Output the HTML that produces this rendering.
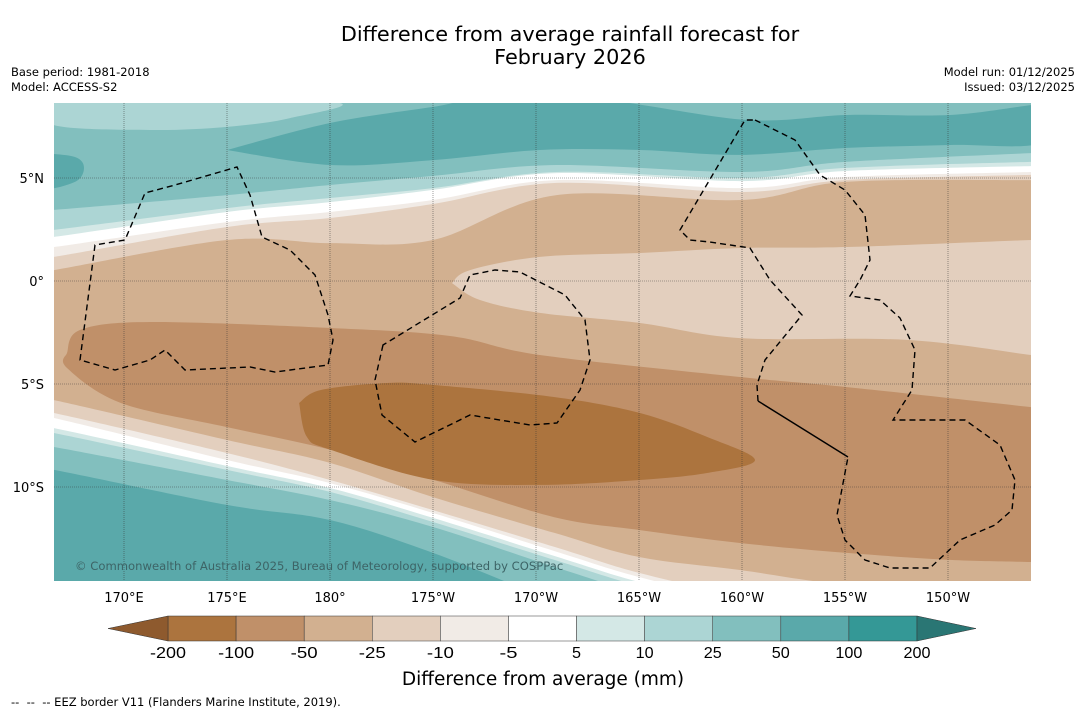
<!DOCTYPE html>
<html><head><meta charset="utf-8">
<style>
body{margin:0;background:#fff;width:1085px;height:713px;overflow:hidden;font-family:"DejaVu Sans","Liberation Sans",sans-serif;}
svg{position:absolute;left:0;top:0;}
</style></head>
<body>
<svg id="chart" width="1085" height="713" xmlns="http://www.w3.org/2000/svg" font-family="DejaVu Sans, Liberation Sans, sans-serif">
<defs><clipPath id="mapclip"><rect x="54" y="103" width="977" height="478"/></clipPath></defs>
<text x="570" y="41" text-anchor="middle" font-size="20.8" fill="#000">Difference from average rainfall forecast for</text>
<text x="570" y="64" text-anchor="middle" font-size="20.8" fill="#000">February 2026</text>
<text x="11" y="76" font-size="11.5">Base period: 1981-2018</text>
<text x="11" y="91" font-size="11.5">Model: ACCESS-S2</text>
<text x="1075" y="76" font-size="11.5" text-anchor="end">Model run: 01/12/2025</text>
<text x="1075" y="91" font-size="11.5" text-anchor="end">Issued: 03/12/2025</text>
<g id="map" clip-path="url(#mapclip)"></g>
<g id="grid"></g>
<g id="eez" fill="none" stroke="#000" stroke-width="1.4" stroke-dasharray="6,4">
<path d="M80,360 L95,245 L125,240 L145,193 L175,185 L237,167 L250,195 L262,237 L290,250 L315,275 L328,315 L333,340 L328,365 L275,372 L250,367 L185,370 L165,350 L150,360 L115,370 Z"/>
<path d="M383,345 L375,380 L382,415 L415,442 L470,415 L530,425 L557,423 L580,390 L590,360 L585,320 L565,295 L520,272 L495,270 L470,275 L460,298 Z"/>
<path d="M755,120 L795,140 L820,175 L845,190 L865,215 L870,260 L860,280 L850,296 L880,300 L900,318 L915,350 L912,390 L893,420 L920,420 L965,420 L1000,445 L1015,480 L1012,510 L995,525 L960,540 L930,568 L890,568 L865,560 L845,540 L837,515 L848,457 M758,401 L757,385 L765,360 L802,315 L770,280 L750,248 L710,242 L690,240 L680,230 L745,120 L755,120"/>
<path d="M758,401 L848,457" stroke-dasharray="none"/>
</g>
<text x="75" y="570" font-size="11.6" fill="#3d6466">© Commonwealth of Australia 2025, Bureau of Meteorology, supported by COSPPac</text>
<g id="axes"></g>
<g id="cbar"></g>
<text x="543" y="685" text-anchor="middle" font-size="18.5">Difference from average (mm)</text>
<text x="11" y="706" font-size="11.5" xml:space="preserve">--  --  -- EEZ border V11 (Flanders Marine Institute, 2019).</text>
</svg>
<script>
// colour levels
const levels = [-200,-100,-50,-25,-10,-5,5,10,25,50,100,200];
const colors = ["#ac743e","#c09069","#d2b090","#e3cfbe","#f1ebe6","#ffffff","#d4e8e6","#acd5d4","#82bfbe","#5aa9aa","#349896"];
const lonTicks = [170,175,180,185,190,195,200,205,210];
const lonLabels = ["170°E","175°E","180°","175°W","170°W","165°W","160°W","155°W","150°W"];
const latTicks = [5,0,-5,-10];
const latLabels = ["5°N","0°","5°S","10°S"];
// contour boundaries (lat at sample longitudes, degrees east)
const northLons = [166.6,175,180,185,191,200,205,214];
const b50to25 = [3.45,4.17,4.66,5.1,5.63,5.29,5.78,6.21];
const b25to10 = [2.48,3.54,4.03,4.51,5.29,5.0,5.49,5.78];
const b10to0 = [2.14,3.35,3.83,4.42,5.24,4.85,5.34,5.58];
const b0toM10 = [1.65,2.86,3.35,3.93,4.9,4.51,5.05,5.29];
const bM10toM25 = [1.17,2.62,3.06,3.74,4.76,4.32,4.9,5.15];
const bM25toM50 = [0.53,1.99,1.84,1.99,4.17,3.93,4.81,4.9];
const southLons = [166.6,175,180,185,190.9,195,199.9,205.1,214];
const sM50toM25 = [-5.78,-7.72,-8.83,-10.49,-12.23,-13.4,-14.03,-14.76,-15.49];
const sM25toM10 = [-6.41,-8.35,-9.66,-11.12,-12.91,-14.17,-15.24,-15.97,-16.46];
const sM10to0 = [-6.65,-8.69,-9.81,-11.26,-13.11,-14.37,-15.49,-16.21,-16.7];
const s0to10 = [-7.14,-8.98,-10.05,-11.5,-13.35,-14.61,-15.73,-16.4,-16.9];
const s10to25 = [-7.38,-9.17,-10.24,-11.7,-13.54,-14.81,-16.0,-16.7,-17.2];
const s25to50 = [-8.06,-9.66,-10.63,-11.94,-13.88,-15.15,-16.3,-17.0,-17.5];
const s50to100 = [-9.17,-10.87,-11.6,-13.2,-15.49,-16.5,-17.0,-17.5,-18.0];
// closed regions [lon, lat]
const blobTopLeft25 = [[166.6,8.7],[180,8.7],[178.06,7.91],[175,7.48],[171.26,7.33],[166.6,7.57]];
const blobNorth100 = [[175,6.36],[180,7.67],[185,8.45],[187.28,8.8],[193.1,8.8],[200.24,7.82],[205.1,8.06],[210.1,8.06],[214.03,8.54],[214.5,8.54],[214.5,6.7],[210.1,6.6],[205.1,6.46],[199.9,6.12],[195.05,6.36],[190.19,6.36],[185,5.87],[180,5.63]];
const blobWest100 = [[166.0,6.21],[167.62,6.02],[168.06,5.49],[167.62,4.81],[166.0,4.56]];
const blobEastM25 = [[185.92,-0.1],[186.8,0.53],[190.19,1.17],[195.05,1.36],[199.9,1.6],[205.1,1.65],[214.03,1.99],[214.6,1.99],[214.6,-3.59],[214.03,-3.59],[208.0,-2.86],[199.9,-2.77],[195.05,-2.04],[190.19,-1.55],[187.28,-0.92]];
const blobM100 = [[167.23,-3.5],[167.86,-2.38],[171.26,-1.99],[180,-2.28],[185.83,-2.67],[190.19,-3.59],[199.9,-4.66],[205.1,-5.15],[214.03,-6.12],[214.6,-6.12],[214.6,-13.64],[214.03,-13.64],[210.1,-13.54],[205.1,-13.2],[199.9,-12.72],[195.05,-12.09],[190.87,-11.46],[185.05,-9.66],[180.05,-8.2],[175,-7.09],[169.85,-5.92],[167.23,-4.22]];
const blobM200 = [[178.5,-5.92],[179.56,-5.29],[182.77,-4.95],[185.05,-5.05],[190.87,-5.63],[195.05,-6.41],[198.3,-7.57],[200.63,-8.69],[198.3,-9.32],[195.05,-9.66],[190.19,-9.9],[185.05,-9.66],[180.05,-8.2],[178.88,-7.57]];

const NS="http://www.w3.org/2000/svg";
const X = lon => 124 + (lon-170)*20.6;
const Y = lat => 281 - lat*20.6;
function mk(tag, attrs, parent){const e=document.createElementNS(NS,tag);for(const k in attrs)e.setAttribute(k,attrs[k]);parent.appendChild(e);return e;}
function smooth(pts){
  let d="M"+pts[0][0]+","+pts[0][1];
  for(let i=0;i<pts.length-1;i++){
    const p0=pts[Math.max(i-1,0)],p1=pts[i],p2=pts[i+1],p3=pts[Math.min(i+2,pts.length-1)];
    const c1=[p1[0]+(p2[0]-p0[0])/6,p1[1]+(p2[1]-p0[1])/6];
    const c2=[p2[0]-(p3[0]-p1[0])/6,p2[1]-(p3[1]-p1[1])/6];
    d+=" C"+c1[0].toFixed(1)+","+c1[1].toFixed(1)+" "+c2[0].toFixed(1)+","+c2[1].toFixed(1)+" "+p2[0].toFixed(1)+","+p2[1].toFixed(1);
  }
  return d;
}
const map=document.getElementById('map');
function curvePts(lons,lats){const p=lats.map((v,i)=>[X(lons[i]),Y(v)]);p.unshift([40,p[0][1]]);p.push([1045,p[p.length-1][1]]);return p;}
function fillBelow(lons,lats,color,name){
  const d=smooth(curvePts(lons,lats))+" L1045,700 L40,700 Z";
  const e=mk('path',{d:d,fill:color},map);
  
  
}
function blob(pts,color,name){
  const p=pts.map(q=>[X(q[0]),Y(q[1])]);p.push(p[0]);
  const e=mk('path',{d:smooth(p)+" Z",fill:color},map);
  
  
}
const bg=mk('rect',{x:54,y:103,width:977,height:478,fill:colors[8]},map);


blob(blobTopLeft25,colors[7],'band-25-northwest');
blob(blobNorth100,colors[9],'band-100-north');
blob(blobWest100,colors[9],'band-100-west');
fillBelow(northLons,b50to25,colors[7],'band-25-north');
fillBelow(northLons,b25to10,colors[6],'band-10-north');
fillBelow(northLons,b10to0,colors[5],'band-neutral-north');
fillBelow(northLons,b0toM10,colors[4],'band-minus10-north');
fillBelow(northLons,bM10toM25,colors[3],'band-minus25-north');
fillBelow(northLons,bM25toM50,colors[2],'band-minus50');
blob(blobEastM25,colors[3],'band-minus25-east');
blob(blobM100,colors[1],'band-minus100');
blob(blobM200,colors[0],'band-minus200');
fillBelow(southLons,sM50toM25,colors[3],'band-minus25-south');
fillBelow(southLons,sM25toM10,colors[4],'band-minus10-south');
fillBelow(southLons,sM10to0,colors[5],'band-neutral-south');
fillBelow(southLons,s0to10,colors[6],'band-10-south');
fillBelow(southLons,s10to25,colors[7],'band-25-south');
fillBelow(southLons,s25to50,colors[8],'band-50-south');
fillBelow(southLons,s50to100,colors[9],'band-100-south');

const grid=document.getElementById('grid'), axes=document.getElementById('axes');
lonTicks.forEach((lon,i)=>{
  const x=X(lon);
  const l=mk('line',{x1:x,x2:x,y1:103,y2:581,stroke:'#333','stroke-width':0.6,'stroke-dasharray':'1,1',opacity:0.8},grid);
  
  
  const t=mk('text',{x:x,y:602,'text-anchor':'middle','font-size':13},axes);
  t.textContent=lonLabels[i];
  
  
});
latTicks.forEach((lat,i)=>{
  const y=Y(lat);
  const l=mk('line',{x1:54,x2:1031,y1:y,y2:y,stroke:'#333','stroke-width':0.6,'stroke-dasharray':'1,1',opacity:0.8},grid);
  
  
  const t=mk('text',{x:44,y:y+5,'text-anchor':'end','font-size':13},axes);
  t.textContent=latLabels[i];
  
  
});

const cb=document.getElementById('cbar');
const cbX0=168, cbX1=917, cbY=616, cbH=25;
const CX = i => cbX0 + i*(cbX1-cbX0)/(levels.length-1);
colors.forEach((c,i)=>{
  const r=mk('rect',{x:CX(i),y:cbY,width:CX(i+1)-CX(i),height:cbH,fill:c,stroke:'#333','stroke-width':0.5},cb);
  
  
});
const lt=mk('polygon',{points:`108,${cbY+cbH/2} ${cbX0},${cbY} ${cbX0},${cbY+cbH}`,fill:'#8e5a2e',stroke:'#333','stroke-width':0.5},cb);


const rt=mk('polygon',{points:`976,${cbY+cbH/2} ${cbX1},${cbY} ${cbX1},${cbY+cbH}`,fill:'#2a7674',stroke:'#333','stroke-width':0.5},cb);


levels.forEach((v,i)=>{
  const t=mk('text',{x:CX(i),y:658,'text-anchor':'middle','font-size':16,'font-family':'Liberation Sans, sans-serif','textLength':(String(v).length*9),'lengthAdjust':'spacingAndGlyphs'},cb);
  t.textContent=String(v);
  
  
});
</script>
</body></html>
